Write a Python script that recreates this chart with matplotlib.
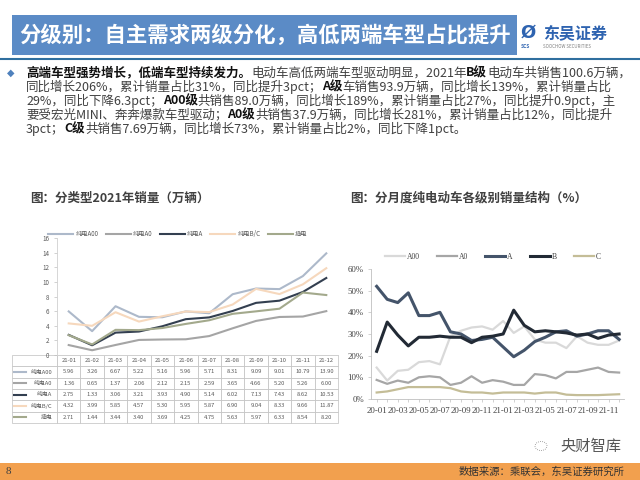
import matplotlib
matplotlib.use('Agg')
import matplotlib.pyplot as plt
from matplotlib import font_manager
from matplotlib.ft2font import FT2Font
from matplotlib.patches import Rectangle, Circle
from matplotlib.lines import Line2D
from matplotlib.table import Table

plt.rcParams['font.family'] = ['Noto Sans CJK SC', 'DejaVu Sans']

# ---- left chart: 2021 monthly sales by type (10k units) ----
months_2021 = ['21-01', '21-02', '21-03', '21-04', '21-05', '21-06',
               '21-07', '21-08', '21-09', '21-10', '21-11', '21-12']
type_labels = ['纯电A00', '纯电A0', '纯电A', '纯电B/C', '插电']
sales_a00 = [5.96, 3.26, 6.67, 5.22, 5.16, 5.96, 5.71, 8.31, 9.09, 9.01, 10.79, 13.90]
sales_a0 = [1.36, 0.65, 1.37, 2.06, 2.12, 2.15, 2.59, 3.65, 4.66, 5.20, 5.26, 6.00]
sales_a = [2.75, 1.33, 3.06, 3.21, 3.93, 4.90, 5.14, 6.02, 7.13, 7.43, 8.62, 10.53]
sales_bc = [4.32, 3.99, 5.85, 4.57, 5.30, 5.95, 5.87, 6.90, 9.04, 8.33, 9.66, 11.87]
sales_phev = [2.71, 1.44, 3.44, 3.40, 3.69, 4.25, 4.75, 5.63, 5.97, 6.33, 8.54, 8.20]
left_colors = ['#adb9ca', '#a5a5a5', '#333f50', '#f6d8bd', '#a3a98c']

# ---- right chart: monthly BEV sales structure by class (%) ----
months_struct = ['20-01', '20-02', '20-03', '20-04', '20-05', '20-06',
                 '20-07', '20-08', '20-09', '20-10', '20-11', '20-12',
                 '21-01', '21-02', '21-03', '21-04', '21-05', '21-06',
                 '21-07', '21-08', '21-09', '21-10', '21-11', '21-12']
class_labels = ['A00', 'A0', 'A', 'B', 'C']
share_a00 = [14.5, 8.5, 13, 13.5, 17, 17.5, 16, 29, 31.5, 33, 33.5, 32,
             36, 30.5, 33.5, 27.5, 26, 26, 23.5, 29, 26, 25, 25, 27]
share_a0 = [8.8, 7, 8.5, 7.5, 10, 10.5, 10, 6.5, 7.5, 10.5, 7.5, 8.7,
            8, 6.5, 6.5, 11.5, 11, 9.5, 12.5, 12.5, 13.5, 14.5, 12.5, 12.2]
share_a = [52, 46, 44.5, 49, 38.5, 38.5, 40, 31, 30, 27, 27.5, 28.5,
           24, 19.5, 22.5, 26.5, 28.5, 31, 31.5, 29, 30, 31.5, 31.5, 27.5]
share_b = [22, 35.5, 29.5, 24.5, 28.5, 28.5, 29, 28.5, 28.5, 26, 28.5, 29,
           30, 41, 34, 31, 31.5, 31, 30.5, 29.5, 30, 28, 29.5, 30]
share_c = [3, 3.5, 4.5, 5.5, 5.5, 5.5, 5.5, 5, 3.5, 3, 3, 2.5,
           3, 3, 3, 2.5, 3, 3, 2, 1.8, 1.8, 1.8, 2, 2.2]
right_colors = ['#d9d9d9', '#a6a6a6', '#44546a', '#222a35', '#c4bd97']
right_widths = [1.6, 1.6, 2.2, 2.2, 1.6]

title = '分级别：自主需求两级分化，高低两端车型占比提升'
para_lines = [
    [('高端车型强势增长，低端车型持续发力。', True), ('电动车高低两端车型驱动明显，2021年', False),
     ('B级', True), ('电动车共销售100.6万辆，', False)],
    [('同比增长206%，累计销量占比31%，同比提升3pct；', False), ('A级', True),
     ('车销售93.9万辆，同比增长139%，累计销量占比', False)],
    [('29%，同比下降6.3pct；', False), ('A00级', True),
     ('共销售89.0万辆，同比增长189%，累计销量占比27%，同比提升0.9pct，主', False)],
    [('要受宏光MINI、奔奔爆款车型驱动；', False), ('A0级', True),
     ('共销售37.9万辆，同比增长281%，累计销量占比12%，同比提升', False)],
    [('3pct；', False), ('C级', True), ('共销售7.69万辆，同比增长73%，累计销量占比2%，同比下降1pct。', False)],
]
PARA_SIZE = 9.0


def fx(px):
    return px / 640


def fy(py):
    return 1 - py / 480


_fonts = {}


def advance(s, weight):
    """Sum of glyph advances in pixels (100 dpi)."""
    if weight not in _fonts:
        path = font_manager.findfont(font_manager.FontProperties(family='Noto Sans CJK SC',
                                                                 weight=weight))
        f = FT2Font(path)
        f.set_size(PARA_SIZE, 100)
        _fonts[weight] = f
    f = _fonts[weight]
    return sum(f.load_char(ord(ch)).linearHoriAdvance / 65536 for ch in s)


fig = plt.figure(figsize=(6.4, 4.8), dpi=100)
fig.patch.set_facecolor('white')

# header
fig.add_artist(Rectangle((fx(12), fy(55)), fx(505), 40 / 480, transform=fig.transFigure,
                         facecolor='#5b8bc6', edgecolor='none'))
fig.text(fx(19), fy(35), title, fontsize=15.4, fontweight='bold', color='white', va='center')
fig.add_artist(Line2D([0, 1], [fy(59), fy(59)], transform=fig.transFigure, color='#2f6f9f', lw=1.5))
fig.text(fx(521), fy(33), 'Ø', fontsize=13, fontweight='bold', color='#2e63b0', va='center',
         family=['DejaVu Sans'])
fig.text(fx(521), fy(47), 'SCS', fontsize=3.5, fontweight='bold', color='#2e63b0', va='center')
fig.text(fx(543), fy(33), '东吴证券', fontsize=11.5, fontweight='bold', color='#2e63b0', va='center')
fig.text(fx(543), fy(47), 'SOOCHOW SECURITIES', fontsize=3.2, color='#7f7f7f', va='center')

# bullet paragraph (bold runs placed one after another)
fig.text(fx(7), fy(73), '◆', fontsize=7, color='#4f81bd', va='center', family=['DejaVu Sans'])
for i, segs in enumerate(para_lines):
    x = 26.0
    y = fy(73 + 14 * i)
    for txt, bold in segs:
        weight = 'bold' if bold else 'normal'
        fig.text(fx(x), y, txt, fontsize=PARA_SIZE, va='center', ha='left', fontweight=weight,
                 color='#111111' if bold else '#404040')
        x += advance(txt, weight)

# subtitles
fig.text(fx(30), fy(198), '图：分类型2021年销量（万辆）', fontsize=9, fontweight='bold',
         color='#404040', va='center')
fig.text(fx(350), fy(198), '图：分月度纯电动车各级别销量结构（%）', fontsize=9, fontweight='bold',
         color='#404040', va='center')

# ---- left chart ----
ax1 = fig.add_axes([fx(57), fy(355), fx(281), 117 / 480])
left_series = [sales_a00, sales_a0, sales_a, sales_bc, sales_phev]
x1 = list(range(len(months_2021)))
for vals, lab, col in zip(left_series, type_labels, left_colors):
    ax1.plot(x1, vals, color=col, lw=1.5, label=lab, solid_joinstyle='round')
ax1.set_xlim(-0.5, 11.5)
ax1.set_ylim(0, 16)
ax1.set_yticks(range(0, 17, 2))
ax1.set_xticks([])
ax1.tick_params(axis='y', labelsize=4.5, labelcolor='#595959', color='#bfbfbf', length=2, width=0.5)
for s in ['top', 'right']:
    ax1.spines[s].set_visible(False)
for s in ['left', 'bottom']:
    ax1.spines[s].set_color('#d0d0d0')
    ax1.spines[s].set_linewidth(0.6)
ax1.legend(loc='center', bbox_to_anchor=(0.43, 1.035), ncol=5, fontsize=4.5, frameon=False,
           handlelength=4, columnspacing=1.2, handletextpad=0.3, labelcolor='#595959')

# data table under the chart
tb = Table(ax1, bbox=[-0.160, -0.581, 1.160, 0.581])
lab_w, mon_w = 45, 281 / 12
n_rows = len(type_labels) + 1
row_h = 1.0 / n_rows
tb.add_cell(0, 0, lab_w, row_h, text='', loc='center')
for j, m in enumerate(months_2021):
    tb.add_cell(0, j + 1, mon_w, row_h, text=m, loc='center')
for i, (lab, vals) in enumerate(zip(type_labels, left_series)):
    tb.add_cell(i + 1, 0, lab_w, row_h, text=lab, loc='right')
    for j, v in enumerate(vals):
        tb.add_cell(i + 1, j + 1, mon_w, row_h, text=f'{v:.2f}', loc='center')
tb.auto_set_font_size(False)
tb.set_fontsize(4.2)
for cell in tb.get_celld().values():
    cell.set_edgecolor('#bfbfbf')
    cell.set_linewidth(0.5)
    cell.get_text().set_color('#595959')
ax1.add_table(tb)
for i, col in enumerate(left_colors):
    yc = -0.581 + 0.581 * (1 - (i + 1.5) * row_h)
    ax1.plot([-0.153, -0.110], [yc, yc], transform=ax1.transAxes, color=col, lw=1.5, clip_on=False)

# ---- right chart ----
ax2 = fig.add_axes([fx(371.4), fy(399), fx(253), 130 / 480])
right_series = [share_a00, share_a0, share_a, share_b, share_c]
x2 = list(range(len(months_struct)))
for vals, lab, col, lw in zip(right_series, class_labels, right_colors, right_widths):
    ax2.plot(x2, vals, color=col, lw=lw, label=lab, solid_joinstyle='round')
ax2.set_xlim(-0.5, 23.5)
ax2.set_ylim(0, 60)
ax2.set_yticks(range(0, 61, 10))
ax2.set_yticklabels([f'{v}%' for v in range(0, 61, 10)])
ax2.set_xticks(x2[::2])
ax2.set_xticklabels(months_struct[::2])
ax2.set_xticks(x2, minor=True)
ax2.tick_params(axis='both', which='both', labelsize=6.3, labelcolor='#404040', color='#bfbfbf',
                length=2, width=0.5)
for lbl in ax2.get_xticklabels() + ax2.get_yticklabels():
    lbl.set_family('Liberation Serif')
for s in ['top', 'right']:
    ax2.spines[s].set_visible(False)
for s in ['left', 'bottom']:
    ax2.spines[s].set_color('#bfbfbf')
    ax2.spines[s].set_linewidth(0.6)
ax2.legend(loc='center', bbox_to_anchor=(0.48, 1.092), ncol=5, frameon=False,
           prop={'family': 'Liberation Serif', 'size': 5.5}, handlelength=2.6,
           columnspacing=2.3, handletextpad=0.2, labelcolor='#404040')

# watermark + footer
fig.add_artist(Circle((fx(541), fy(446)), 6 / 640, transform=fig.transFigure, fill=False,
                      edgecolor='#888888', lw=0.6, ls=(0, (1, 1.5))))
fig.text(fx(560), fy(446), '央财智库', fontsize=11, color='#555555', va='center')
fig.add_artist(Rectangle((0, 0), 1, 17 / 480, transform=fig.transFigure,
                         facecolor='#f2a04e', edgecolor='none'))
fig.text(fx(6), fy(472), '8', fontsize=8, color='#404040', va='center', family=['Liberation Serif'])
fig.text(fx(625), fy(472), '数据来源：乘联会，东吴证券研究所', fontsize=7.5, color='#333333',
         va='center', ha='right')

fig.savefig('out.png', dpi=100)
